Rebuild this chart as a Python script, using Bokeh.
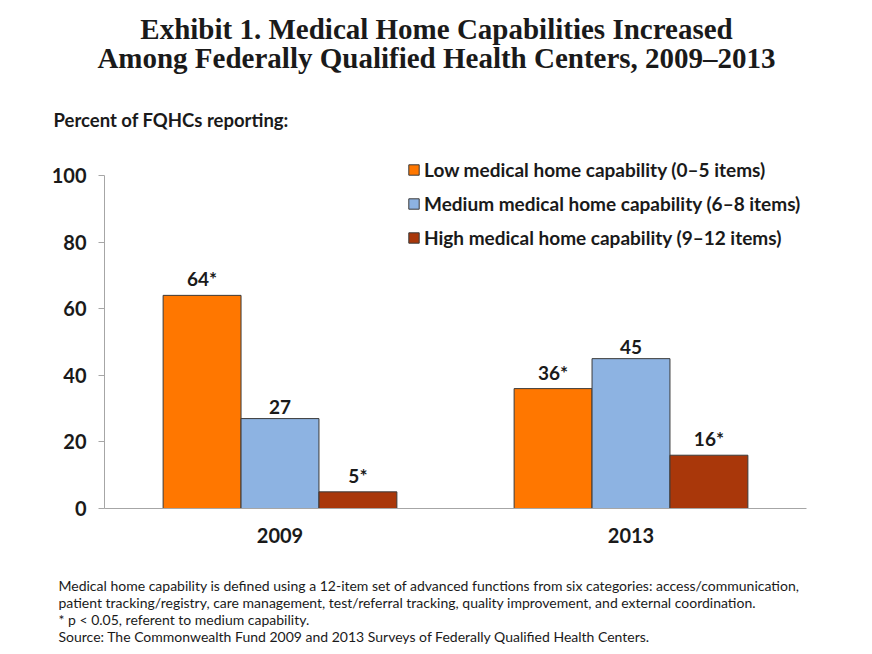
from bokeh.core.properties import value
from bokeh.embed import file_html
from bokeh.resources import INLINE
from bokeh.layouts import column
from bokeh.plotting import figure
from bokeh.models import (ColumnDataSource, FactorRange, Range1d, Label, LabelSet,
                          Legend, LegendItem)
from bokeh.transform import dodge

years = ['2009', '2013']
low = [64, 36]
medium = [27, 45]
high = [5, 16]
low_text = ['64*', '36*']
medium_text = ['27', '45']
high_text = ['5*', '16*']
series_names = ['Low medical home capability (0\u20135 items)',
                'Medium medical home capability (6\u20138 items)',
                'High medical home capability (9\u201312 items)']
colors = ['#FF7700', '#8DB3E2', '#A9370A']
y_ticks = [0, 20, 40, 60, 80, 100]

title_lines = ['Exhibit 1. Medical Home Capabilities Increased',
               'Among Federally Qualified Health Centers, 2009\u20132013']
notes = ['Medical home capability is defined using a 12-item set of advanced functions from six categories: access/communication,',
         'patient tracking/registry, care management, test/referral tracking, quality improvement, and external coordination.',
         '* p < 0.05, referent to medium capability.',
         'Source:  The Commonwealth Fund 2009 and 2013 Surveys of Federally Qualified Health Centers.']

W = 872
TOP_H, MAIN_H, BOT_H = 150, 410, 94


def text_panel(height):
    # blank figure whose data units are page pixels, y downward
    f = figure(width=W, height=height, x_range=Range1d(0, W), y_range=Range1d(height, 0),
               output_backend="svg", toolbar_location=None, min_border=0,
               outline_line_color=None, x_axis_type=None, y_axis_type=None,
               frame_align=False)
    f.xgrid.grid_line_color = None
    f.ygrid.grid_line_color = None
    return f


top = text_panel(TOP_H)
for i, t in enumerate(title_lines):
    top.add_layout(Label(x=436, y=28 + 29 * i, text=t, text_align='center',
                         text_baseline='middle', text_font='Liberation Serif',
                         text_font_style='bold', text_font_size='29px',
                         text_color='#1a1a1a'))
top.add_layout(Label(x=53, y=119, text='Percent of FQHCs reporting:', text_baseline='middle',
                     text_font='Lato', text_font_style='bold', text_font_size='18.5px',
                     text_color='#1a1a1a'))

source = ColumnDataSource(data=dict(year=years, low=low, medium=medium, high=high,
                                    low_text=low_text, medium_text=medium_text,
                                    high_text=high_text))

# extra headroom above 100 so the legend is not clipped by the frame
p = figure(x_range=FactorRange(*years, range_padding=0), y_range=Range1d(0, 105.1),
           width=W, height=MAIN_H, output_backend="svg", toolbar_location=None,
           min_border_left=104, min_border_right=66, min_border_top=8,
           min_border_bottom=52, outline_line_color=None, frame_align=False)

bw = 0.222
renderers = []
for off, col, color, txt in [(-bw, 'low', colors[0], 'low_text'),
                             (0, 'medium', colors[1], 'medium_text'),
                             (bw, 'high', colors[2], 'high_text')]:
    r = p.vbar(x=dodge('year', off, range=p.x_range), top=col, width=bw, source=source,
               fill_color=color, line_color='#3a3a3a', line_width=1)
    renderers.append(r)
    p.add_layout(LabelSet(x=dodge('year', off, range=p.x_range), y=col, text=txt,
                          source=source, text_align='center', text_baseline='bottom',
                          y_offset=5, text_font=value('Lato'), text_font_style='bold',
                          text_font_size='19px', text_color='#1a1a1a'))

legend = Legend(items=[LegendItem(label=n, renderers=[r]) for n, r in zip(series_names, renderers)],
                location=(303, 259), orientation='vertical', background_fill_alpha=0,
                border_line_color=None, padding=0, margin=0, spacing=11,
                glyph_width=13, glyph_height=13, label_height=20, label_standoff=4,
                label_text_font='Lato', label_text_font_style='bold',
                label_text_font_size='19px', label_text_color='#1a1a1a')
p.add_layout(legend, 'center')

p.xgrid.grid_line_color = None
p.ygrid.grid_line_color = None
p.yaxis.ticker = y_ticks
p.yaxis.bounds = (0, 100)
p.yaxis.axis_line_color = '#A6A6A6'
p.yaxis.major_tick_line_color = '#A6A6A6'
p.yaxis.major_tick_out = 6
p.yaxis.major_tick_in = 0
p.yaxis.minor_tick_line_color = None
p.yaxis.major_label_standoff = 12
p.xaxis.axis_line_color = '#A6A6A6'
p.xaxis.major_tick_line_color = None
p.xaxis.minor_tick_line_color = None
p.xaxis.major_label_standoff = 13
for ax in (p.xaxis, p.yaxis):
    ax.major_label_text_font = 'Lato'
    ax.major_label_text_font_style = 'bold'
    ax.major_label_text_font_size = '20px'
    ax.major_label_text_color = '#1a1a1a'

bottom = text_panel(BOT_H)
for i, t in enumerate(notes):
    bottom.add_layout(Label(x=58, y=25 + 17 * i, text=t, text_baseline='middle',
                            text_font='Lato', text_font_size='14px', text_color='#1a1a1a'))

layout = column(top, p, bottom, spacing=0)
open("out.html", "w").write(file_html(layout, INLINE))
